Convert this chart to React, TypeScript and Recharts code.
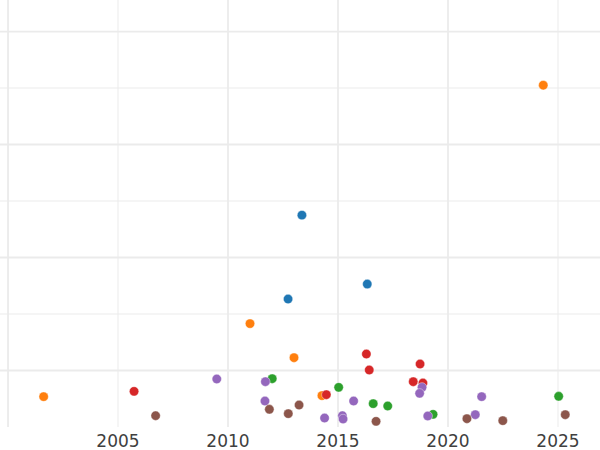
import React from "react";
import { ScatterChart, Scatter, XAxis, YAxis, ReferenceLine } from "recharts";

const blueX = [2013.36, 2012.73, 2016.33];
const blueY = [37.5, 22.65, 25.3];
const orangeX = [2024.33, 2011.0, 2013.0, 2001.62, 2014.27];
const orangeY = [60.5, 18.3, 12.27, 5.37, 5.55];
const greenX = [2012.01, 2015.03, 2016.6, 2017.26, 2019.32, 2025.03];
const greenY = [8.55, 7.02, 4.13, 3.72, 2.24, 5.43];
const redX = [2005.73, 2014.47, 2016.29, 2016.42, 2018.73, 2018.42, 2018.86];
const redY = [6.31, 5.72, 12.92, 10.09, 11.15, 8.02, 7.79];
const purpleX = [2009.49, 2011.7, 2011.68, 2014.39, 2015.2, 2015.23, 2015.71, 2018.82, 2018.71, 2019.08, 2021.53, 2021.24];
const purpleY = [8.5, 8.02, 4.6, 1.59, 2.0, 1.42, 4.6, 7.02, 5.96, 1.95, 5.37, 2.18];
const brownX = [2006.71, 2011.88, 2012.74, 2013.23, 2016.73, 2020.86, 2022.49, 2025.33];
const brownY = [2.0, 3.13, 2.36, 3.89, 1.0, 1.47, 1.12, 2.18];

const xTicks = [2005, 2010, 2015, 2020, 2025];
const vThick = [2000, 2010, 2015, 2020];
const vThin = [2005, 2025];
const hThick = [10, 30, 50, 70];
const hThin = [20, 40, 60];

const toPts = (xs: number[], ys: number[]) => xs.map((x, i) => ({ x, y: ys[i] }));

const series = [
  { name: "blue", color: "#1f77b4", data: toPts(blueX, blueY) },
  { name: "orange", color: "#ff7f0e", data: toPts(orangeX, orangeY) },
  { name: "green", color: "#2ca02c", data: toPts(greenX, greenY) },
  { name: "red", color: "#d62728", data: toPts(redX, redY) },
  { name: "purple", color: "#9467bd", data: toPts(purpleX, purpleY) },
  { name: "brown", color: "#8c564b", data: toPts(brownX, brownY) },
];

const Dot = (props: any) => (
  <circle cx={props.cx} cy={props.cy} r={4.7} fill={props.fill} stroke="#ffffff" strokeWidth={0.4} />
);

export default function App() {
  return (
    <div style={{ position: "absolute", left: 0, top: 0 }}>
      <ScatterChart width={600} height={450} margin={{ top: 0, right: 0, bottom: 0, left: 0 }}>
        <XAxis
          type="number"
          dataKey="x"
          domain={[1999.636, 2026.909]}
          ticks={xTicks}
          axisLine={false}
          tickLine={false}
          height={23}
          allowDataOverflow
          tick={{ fontSize: 17, fill: "#404040", fontFamily: "DejaVu Sans" }}
        />
        <YAxis type="number" dataKey="y" domain={[0, 75.58]} hide allowDataOverflow />
        {hThin.map((v) => (
          <ReferenceLine key={"ht" + v} y={v} stroke="#ebebeb" strokeWidth={1} />
        ))}
        {hThick.map((v) => (
          <ReferenceLine key={"hk" + v} y={v} stroke="#ebebeb" strokeWidth={1.8} />
        ))}
        {vThin.map((v) => (
          <ReferenceLine key={"vt" + v} x={v} stroke="#ebebeb" strokeWidth={1} />
        ))}
        {vThick.map((v) => (
          <ReferenceLine key={"vk" + v} x={v} stroke="#ebebeb" strokeWidth={1.8} />
        ))}
        {series.map((s) => (
          <Scatter
            key={s.name}
            name={s.name}
            data={s.data}
            fill={s.color}
            shape={Dot}
            isAnimationActive={false}
          />
        ))}
      </ScatterChart>
    </div>
  );
}
